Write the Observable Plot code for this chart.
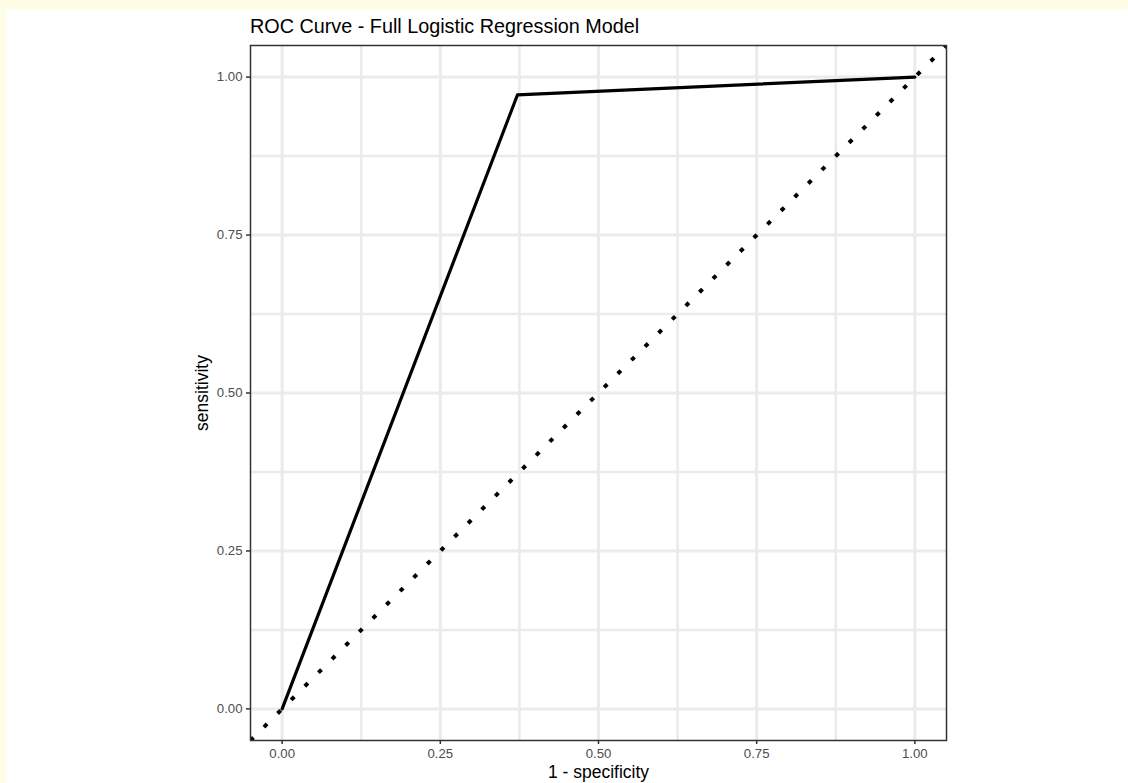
<!DOCTYPE html>
<html>
<head>
<meta charset="utf-8">
<script src="https://cdn.jsdelivr.net/npm/d3@7"></script>
<script src="https://cdn.jsdelivr.net/npm/@observablehq/plot@0.6"></script>
<style>
  html, body { margin: 0; padding: 0; background: #fffde4; width: 1128px; height: 783px; overflow: hidden; }
  #card { position: absolute; left: 6px; top: 9px; width: 1122px; height: 774px; background: #ffffff; }
  #title { position: absolute; left: 244px; top: 8px; font-family: "Liberation Sans", Arial, sans-serif; font-size: 19.8px; color: #000; line-height: 1; white-space: nowrap; }
  #chart { position: absolute; left: 0; top: 30px; }
</style>
</head>
<body>
<div id="card">
  <div id="title">ROC Curve - Full Logistic Regression Model</div>
  <div id="chart"></div>
</div>
<script>
// ROC curve points (1 - specificity, sensitivity)
const fpr = [0, 0.372, 1];
const tpr = [0, 0.972, 1];
// axis ticks
const majorTicks = [0, 0.25, 0.5, 0.75, 1];
const minorTicks = [0.125, 0.375, 0.625, 0.875];
const domain = [-0.05, 1.05];
const xTitle = "1 - specificity";
const yTitle = "sensitivity";

const roc = fpr.map((x, i) => ({x, y: tpr[i]}));
const diag = domain.map(v => ({x: v, y: v}));
const fmt = d3.format(".2f");

const chart = Plot.plot({
  width: 1122,
  height: 744,
  marginLeft: 244,
  marginRight: 182,
  marginTop: 6,
  marginBottom: 43,
  style: {fontFamily: "'Liberation Sans', Arial, sans-serif", fontSize: "13.2px", background: "transparent"},
  x: {domain, label: null},
  y: {domain, label: null},
  marks: [
    Plot.ruleX(minorTicks, {stroke: "#ebebeb", strokeWidth: 2.6}),
    Plot.ruleY(minorTicks, {stroke: "#ebebeb", strokeWidth: 2.6}),
    Plot.ruleX(majorTicks, {stroke: "#ebebeb", strokeWidth: 3}),
    Plot.ruleY(majorTicks, {stroke: "#ebebeb", strokeWidth: 3}),
    Plot.line(diag, {x: "x", y: "y", stroke: "#000", strokeWidth: 4, strokeLinecap: "butt", strokeDasharray: "4.4,14.83", strokeDashoffset: 0.2, clip: true}),
    Plot.line(roc, {x: "x", y: "y", stroke: "#000", strokeWidth: 3.2}),
    Plot.frame({stroke: "#333333", strokeWidth: 1.5}),
    Plot.axisX(majorTicks, {tickFormat: fmt, tickSize: 4, tickPadding: 4, stroke: "#333333", strokeWidth: 1.5, fill: "#4d4d4d", label: null}),
    Plot.axisY(majorTicks, {tickFormat: fmt, tickSize: 4, tickPadding: 4, stroke: "#333333", strokeWidth: 1.5, fill: "#4d4d4d", label: null}),
    Plot.text([xTitle], {frameAnchor: "bottom", dy: 37, fontSize: 17.5, fill: "#000"}),
    Plot.text([yTitle], {frameAnchor: "left", rotate: -90, textAnchor: "middle", dx: -48, fontSize: 17.5, fill: "#000"})
  ]
});
document.getElementById("chart").appendChild(chart);
</script>
</body>
</html>
